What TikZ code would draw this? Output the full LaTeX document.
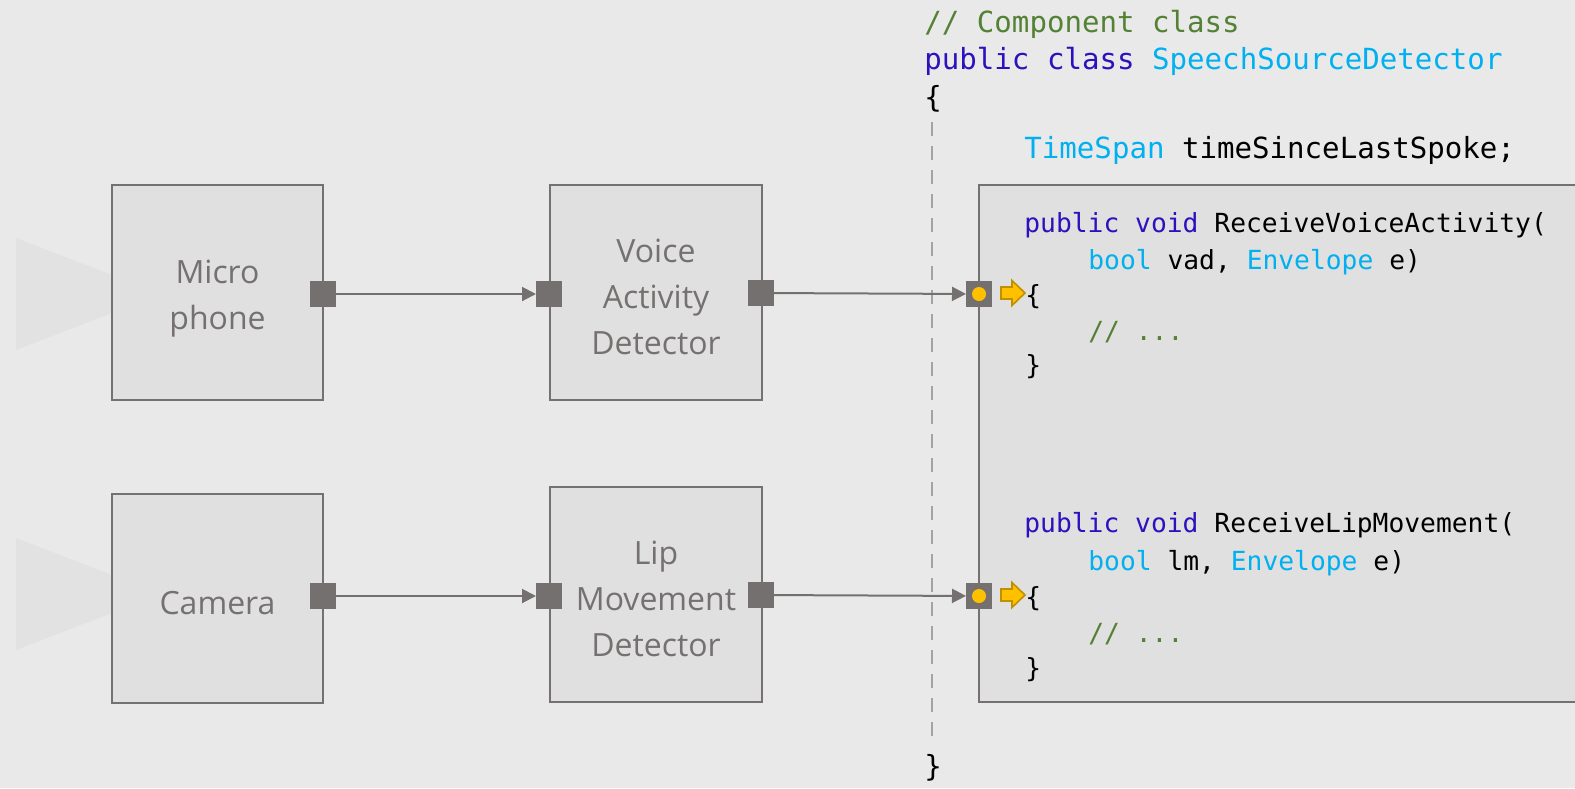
\documentclass[tikz,border=0pt]{standalone}
\usepackage{fontspec}
\setmainfont{Open Sans}
\newfontfamily\codefont{DejaVu Sans Mono}
\usetikzlibrary{arrows.meta}
\definecolor{bgc}{HTML}{E9E9E9}
\definecolor{boxfill}{HTML}{E0E0E0}
\definecolor{boxline}{HTML}{767171}
\definecolor{portc}{HTML}{757070}
\definecolor{labelc}{HTML}{767171}
\definecolor{tric}{HTML}{E2E2E2}
\definecolor{dashc}{HTML}{A3A3A3}
\definecolor{yel}{HTML}{FFC000}
\definecolor{yeld}{HTML}{BF9000}
\definecolor{cmt}{HTML}{538135}
\definecolor{kw}{HTML}{2D10BE}
\definecolor{typ}{HTML}{00B0F0}
\tikzset{
  compbox/.style={draw=boxline, fill=boxfill, line width=1.2pt, minimum width=105.5pt, minimum height=107.5pt, inner sep=0pt},
  boxlabel/.style={align=center, text=labelc, font=\fontsize{16pt}{23pt}\selectfont, inner sep=0pt},
  port/.style={fill=portc, minimum size=13pt, inner sep=0pt, outer sep=0pt},
  conn/.style={draw=portc, line width=1pt, -{Triangle[length=7pt,width=7pt]}},
  codeline/.style={anchor=base west, inner sep=0pt, font=\fontsize{14.55pt}{18pt}\codefont},
  innercode/.style={anchor=base west, inner sep=0pt, font=\fontsize{13.15pt}{18pt}\codefont},
  yarrow/.style={fill=yel, draw=yeld, line width=0.8pt, line join=miter},
}
\newcommand{\cm}[1]{\textcolor{cmt}{#1}}
\newcommand{\kwd}[1]{\textcolor{kw}{#1}}
\newcommand{\ty}[1]{\textcolor{typ}{#1}}
\begin{document}
\begin{tikzpicture}[x=0.5pt,y=-0.5pt]
\useasboundingbox (0,0) rectangle (1575,788);
\clip (0,0) rectangle (1575,788);
\fill[bgc] (0,0) rectangle (1575,788);

% source cones
\fill[tric] (16,238) -- (161,294) -- (16,350) -- cycle;
\fill[tric] (16,538) -- (161,594) -- (16,650) -- cycle;

% component boxes
\node[compbox] (mic) at (217.5,292.5) {};
\node[compbox, minimum height=104.5pt] (cam) at (217.5,598.5) {};
\node[compbox, minimum width=106pt] (vad) at (656,292.5) {};
\node[compbox, minimum width=106pt] (lip) at (656,594.5) {};
\node[boxlabel] (micL) at (217.5,298.5) {Micro\\phone};
\node[boxlabel] (camL) at (217.5,603) {Camera};
\node[boxlabel] (vadL) at (656,296.5) {Voice\\Activity\\Detector};
\node[boxlabel] (lipL) at (656,598.5) {Lip\\Movement\\Detector};

% big component
\draw[draw=boxline, fill=boxfill, line width=1.2pt] (979,185) rectangle (1600,702);

% dashed line
\draw[dashc, line width=1.1pt, dash pattern=on 7pt off 5pt] (932,122) -- (932,742);

% ports
\node[port] (micout) at (323,294) {};
\node[port] (camout) at (323,596) {};
\node[port] (vadin) at (549,294) {};
\node[port] (vadout) at (761,293) {};
\node[port] (lipin) at (549,596) {};
\node[port] (lipout) at (761,595) {};
\node[port] (recv1) at (979,294) {};
\node[port] (recv2) at (979,596) {};
\fill[yel] (recv1.center) circle (3.5pt);
\fill[yel] (recv2.center) circle (3.5pt);

% connectors
\draw[conn] (micout) -- (vadin);
\draw[conn] (camout) -- (lipin);
\draw[conn] (vadout) -- (recv1);
\draw[conn] (lipout) -- (recv2);

% yellow handler arrows
\draw[yarrow] (1001,287) -- (1012,287) -- (1012,280.5) -- (1025,293) -- (1012,305.5) -- (1012,299) -- (1001,299) -- cycle;
\draw[yarrow] (1001,589) -- (1012,589) -- (1012,582.5) -- (1025,595) -- (1012,607.5) -- (1012,601) -- (1001,601) -- cycle;

% code
\node[codeline] (c1) at (924,32) {\cm{// Component class}};
\node[codeline] (c2) at (924,69) {\kwd{public class} \ty{SpeechSourceDetector}};
\node[codeline] (c3) at (924,107) {\{};
\node[codeline] (c4) at (1024,158) {\ty{TimeSpan} timeSinceLastSpoke;};
\node[innercode] (c5) at (1024,232) {\kwd{public void} ReceiveVoiceActivity(};
\node[innercode] (c6) at (1088,269) {\ty{bool} vad, \ty{Envelope} e)};
\node[innercode] (c7) at (1025,304) {\{};
\node[innercode] (c8) at (1088,340) {\cm{// ...}};
\node[innercode] (c9) at (1025,374) {\}};
\node[innercode] (c10) at (1024,532) {\kwd{public void} ReceiveLipMovement(};
\node[innercode] (c11) at (1088,570) {\ty{bool} lm, \ty{Envelope} e)};
\node[innercode] (c12) at (1025,606) {\{};
\node[innercode] (c13) at (1088,642) {\cm{// ...}};
\node[innercode] (c14) at (1025,677) {\}};
\node[codeline] (c15) at (924,776) {\}};
\end{tikzpicture}
\end{document}
